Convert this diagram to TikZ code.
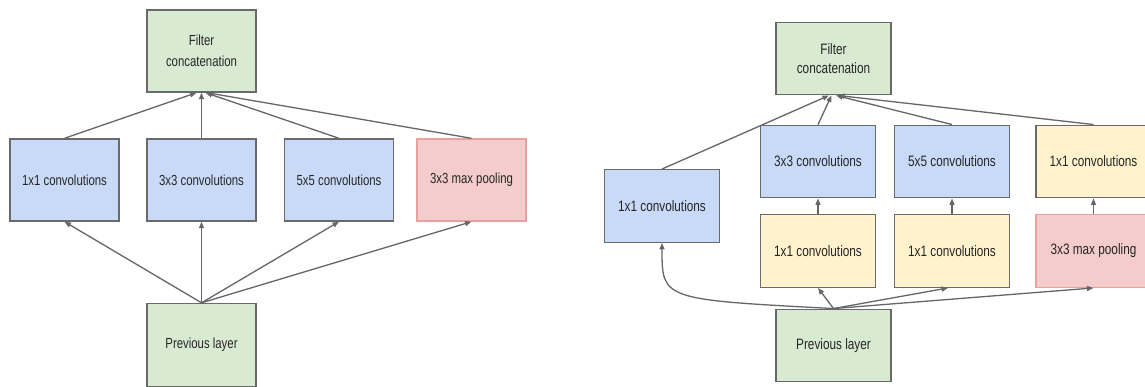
\documentclass[tikz,border=0pt]{standalone}
\usepackage{fontspec}
\newfontfamily\boxfont{Liberation Sans}[FakeStretch=0.78]
\usetikzlibrary{arrows.meta}
\definecolor{edge}{HTML}{6A6A6A}
\definecolor{wire}{HTML}{666666}
\definecolor{txt}{HTML}{262626}
\definecolor{greenfill}{HTML}{D9EAD3}
\definecolor{bluefill}{HTML}{C9DAF8}
\definecolor{yellowfill}{HTML}{FFF2CC}
\definecolor{redfill}{HTML}{F4CCCC}
\definecolor{rededge}{HTML}{EBA0A0}
\begin{document}
\begin{tikzpicture}[x=1pt,y=-1pt,
  blk/.style={draw=edge, line width=1.4pt, inner sep=0pt, align=center, text=txt},
  lblk/.style={blk, minimum width=109pt, minimum height=82pt,
    font=\boxfont\fontsize{14.6}{21}\selectfont},
  rblk/.style={blk, minimum width=115pt, minimum height=72.5pt,
    font=\boxfont\fontsize{15.1}{19}\selectfont},
  green/.style={fill=greenfill},
  blue/.style={fill=bluefill},
  yellow/.style={fill=yellowfill},
  pool/.style={fill=redfill, draw=rededge},
  conn/.style={draw=wire, line width=1.3pt, -{Triangle[length=6.5pt,width=5pt]}}]
\fill[white] (0,0) rectangle (1145,387);
\useasboundingbox (0,0) rectangle (1145,387);
\clip (0,0) rectangle (1145,387);

% naive inception module
\node[lblk, green] (lcat)  at (201.5,51)  {Filter\\concatenation};
\node[lblk, blue]  (la)    at (64.5,180)  {1x1 convolutions};
\node[lblk, blue]  (lb)    at (201.5,180) {3x3 convolutions};
\node[lblk, blue]  (lc)    at (339,180)   {5x5 convolutions};
\node[lblk, pool]  (ld)    at (471.5,180) {3x3 max pooling};
\node[lblk, green, minimum height=83pt] (lprev) at (201.5,345) {Previous layer};

\draw[conn] (la.north) -- ([xshift=-5pt]lcat.south);
\draw[conn] (lb.north) -- (lcat.south);
\draw[conn] (lc.north) -- ([xshift=4pt]lcat.south);
\draw[conn] (ld.north) -- ([xshift=5.5pt]lcat.south);
\draw[conn] (lprev.north) -- (la.south);
\draw[conn] (lprev.north) -- (lb.south);
\draw[conn] (lprev.north) -- (lc.south);
\draw[conn] (lprev.north) -- (ld.south);

% inception module with dimension reductions
\node[rblk, green]  (rcat)  at (833.5,58.5) {Filter\\concatenation};
\node[rblk, blue]   (ra)    at (662,206)    {1x1 convolutions};
\node[rblk, blue]   (rb)    at (818,161.5)  {3x3 convolutions};
\node[rblk, blue]   (rc)    at (952,161.5)  {5x5 convolutions};
\node[rblk, yellow] (rd)    at (1093.5,161.5) {1x1 convolutions};
\node[rblk, yellow] (rbr)   at (818,251)    {1x1 convolutions};
\node[rblk, yellow] (rcr)   at (952,251)    {1x1 convolutions};
\node[rblk, pool]   (rdp)   at (1093.5,251) {3x3 max pooling};
\node[rblk, green]  (rprev) at (833.5,345.5) {Previous layer};

\draw[conn] (ra.north) -- ([xshift=-4.5pt]rcat.south);
\draw[conn] (rb.north) -- ([xshift=-2pt]rcat.south);
\draw[conn] (rc.north) -- ([xshift=2.5pt]rcat.south);
\draw[conn] (rd.north) -- ([xshift=4.5pt]rcat.south);
\draw[conn] (rbr.north) -- (rb.south);
\draw[conn] (rcr.north) -- (rc.south);
\draw[conn] (rdp.north) -- (rd.south);
\draw[conn] (rprev.north) .. controls ([yshift=9pt]ra.south |- rprev.north) .. (ra.south);
\draw[conn] (rprev.north) -- (rbr.south);
\draw[conn] (rprev.north) -- ([xshift=-4pt]rcr.south);
\draw[conn] (rprev.north) -- (rdp.south);
\end{tikzpicture}
\end{document}
